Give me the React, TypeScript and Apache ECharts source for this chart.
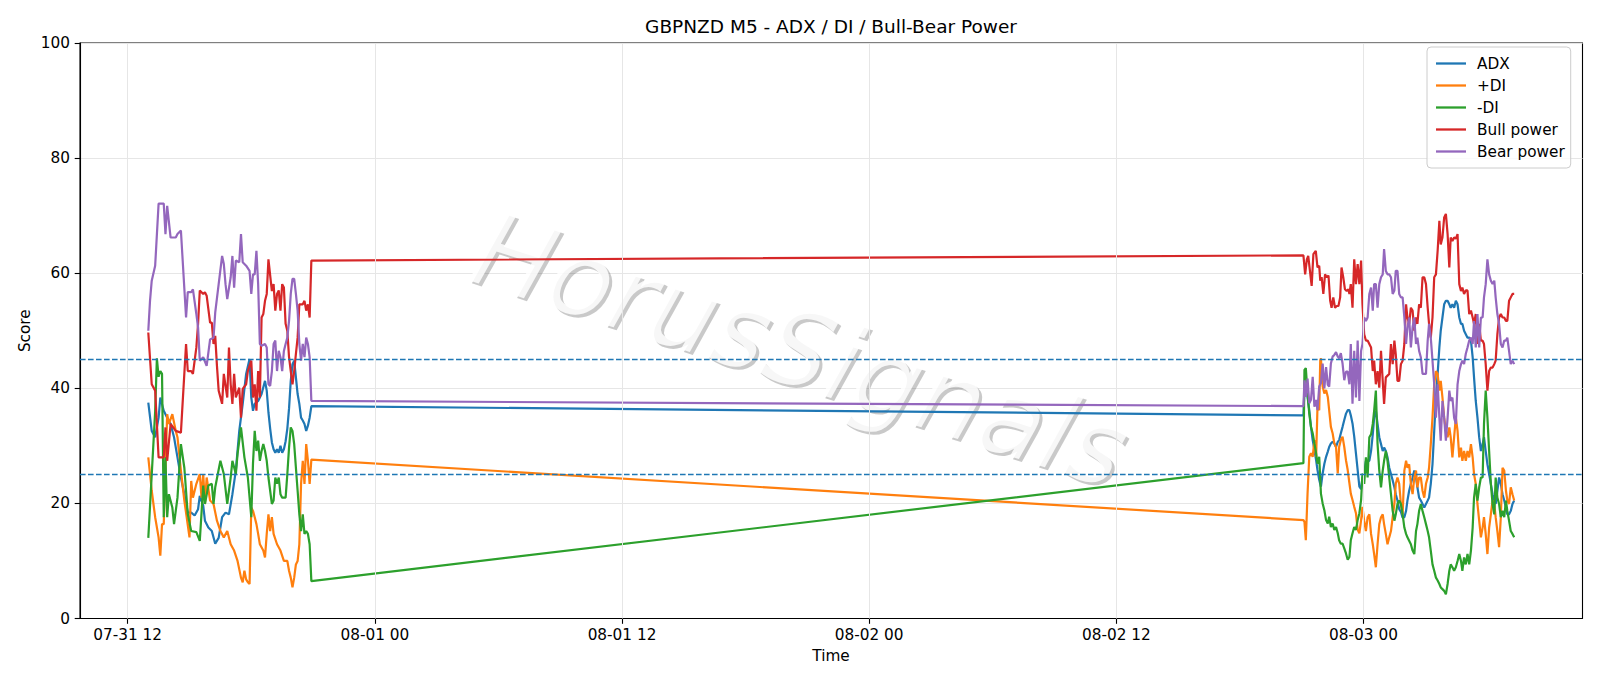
import React, { useEffect, useRef } from "react";
import * as echarts from "echarts";

const TITLE = "GBPNZD M5 - ADX / DI / Bull-Bear Power";
const X_NAME = "Time";
const Y_NAME = "Score";
const WATERMARK = "HorusSignals";

// hours since 07-31 00:00
const SESSION1_START_H = 13; // 07-31 13:00
const SESSION2_START_H = 69; // 08-02 21:00
const X_MIN = 9.684;
const X_MAX = 82.633;
const X_TICKS = [12, 24, 36, 48, 60, 72];
const X_TICK_LABELS = ["07-31 12", "08-01 00", "08-01 12", "08-02 00", "08-02 12", "08-03 00"];
const THRESHOLDS = [25, 45];

const SERIES_NAMES = ["ADX", "+DI", "-DI", "Bull power", "Bear power"];
const SERIES_COLORS = ["#1f77b4", "#ff7f0e", "#2ca02c", "#d62728", "#9467bd"];

// [minutes since session start, value]
const adxS1: [number, number][] = [[0,37.5],[10,32.6],[20,31.5],[30,34.9],[35,38.4],[45,36.1],[55,34.9],[65,33.8],[75,31.5],[85,28.0],[95,24.5],[105,21.6],[115,18.4],[125,18.4],[135,17.9],[145,19.0],[150,21.3],[160,19.6],[165,17.0],[175,15.8],[185,15.2],[195,13.0],[205,14.0],[215,17.6],[225,18.4],[235,18.1],[245,21.6],[255,25.7],[265,32.6],[275,37.3],[285,42.5],[295,45.1],[300,38.4],[305,36.1],[310,37.3],[320,37.8],[330,39.0],[340,41.3],[345,39.6],[350,35.8],[355,33.0],[360,30.6],[365,29.4],[370,28.8],[375,29.4],[380,28.8],[385,30.0],[390,28.8],[395,29.4],[400,30.8],[405,33.0],[410,36.5],[415,41.3],[420,44.2],[425,44.8],[430,41.9],[435,39.0],[440,37.3],[445,34.9],[450,34.4],[455,33.8],[460,32.6],[465,33.5],[470,34.9],[475,36.9]];
const adxS2: [number, number][] = [[5,35.3],[8,40.0],[12,39.4],[17,38.5],[22,36.2],[27,33.3],[32,31.0],[37,29.3],[42,27.5],[46,25.8],[51,24.1],[56,22.9],[61,25.2],[66,26.9],[71,28.1],[76,29.0],[80,29.8],[85,30.4],[90,30.7],[95,30.4],[100,29.8],[105,30.7],[109,31.0],[114,32.2],[119,33.3],[124,34.5],[129,35.6],[134,36.2],[139,36.2],[143,35.3],[148,33.9],[153,31.6],[158,28.7],[163,25.8],[168,22.9],[173,22.5],[177,24.5],[182,25.1],[187,27.4],[192,27.4],[197,27.4],[202,29.1],[207,32.0],[211,34.9],[216,36.1],[221,33.8],[226,31.5],[231,30.3],[236,29.1],[240,29.7],[245,29.1],[250,28.0],[255,26.2],[260,25.1],[265,24.0],[270,22.8],[274,21.6],[279,20.5],[284,19.0],[289,18.5],[294,17.5],[299,17.6],[304,18.7],[308,20.5],[313,22.2],[318,23.4],[323,24.5],[328,25.7],[333,24.5],[337,22.8],[342,21.0],[347,20.5],[352,19.9],[357,19.3],[362,19.9],[367,20.5],[371,21.0],[376,23.4],[381,26.8],[386,32.6],[391,38.4],[396,42.5],[401,47.1],[405,50.0],[410,52.3],[415,54.6],[420,55.2],[425,55.2],[430,54.6],[434,54.0],[439,54.6],[444,54.0],[449,55.2],[454,54.6],[459,52.3],[464,51.2],[468,51.2],[473,50.0],[478,49.4],[483,48.8],[488,48.8],[493,48.3],[498,45.4],[502,41.9],[507,37.8],[512,34.9],[517,31.5],[522,29.1],[527,30.3],[531,31.5],[536,29.1],[541,26.8],[546,25.1],[551,23.4],[556,21.6],[561,20.5],[565,19.9],[570,22.2],[575,24.5],[580,23.4],[585,21.6],[590,20.5],[595,19.3],[599,18.1],[604,18.1],[609,18.7],[614,19.9],[619,20.5]];

const pdiS1: [number, number][] = [[0,28.0],[10,22.2],[20,17.6],[30,14.1],[35,10.9],[40,16.4],[45,16.4],[55,35.5],[60,33.8],[70,35.5],[80,32.6],[85,31.5],[95,25.7],[105,20.5],[120,14.1],[125,23.9],[130,21.0],[140,23.4],[150,25.1],[155,21.0],[160,25.1],[165,19.9],[170,24.5],[180,20.5],[190,19.9],[200,17.0],[210,15.2],[220,14.1],[230,15.2],[240,12.9],[250,11.8],[260,10.0],[270,7.1],[275,6.3],[280,8.3],[285,6.8],[290,6.3],[295,6.0],[300,19.3],[305,18.7],[310,17.6],[315,16.4],[320,14.7],[325,12.9],[335,11.8],[340,10.6],[345,14.7],[350,18.1],[355,15.2],[360,17.6],[365,14.7],[375,12.9],[385,11.8],[395,10.0],[405,10.0],[410,8.3],[415,7.1],[420,5.4],[425,7.1],[430,9.4],[435,10.0],[440,12.9],[445,23.4],[450,27.4],[455,23.4],[460,30.3],[465,27.4],[470,23.4],[475,27.6]];
const pdiS2: [number, number][] = [[5,17.1],[8,16.8],[12,13.6],[17,21.7],[22,28.1],[27,28.7],[32,28.1],[37,31.0],[42,28.1],[46,36.8],[51,36.2],[54,44.9],[56,45.2],[61,40.3],[66,39.1],[71,39.7],[76,38.5],[80,36.2],[85,33.3],[90,32.2],[95,30.4],[100,29.8],[105,25.2],[109,29.8],[114,31.0],[119,31.6],[124,29.8],[129,27.5],[134,25.8],[139,23.5],[143,21.7],[148,20.6],[153,19.4],[158,18.3],[163,15.4],[168,14.8],[173,17.1],[177,19.4],[182,17.0],[187,15.2],[192,17.6],[197,18.1],[202,14.7],[207,12.9],[211,11.2],[216,8.9],[221,12.9],[226,16.4],[231,17.6],[236,18.1],[240,16.4],[245,14.7],[250,12.9],[255,14.1],[260,15.2],[265,17.6],[270,19.9],[274,23.4],[279,24.5],[284,23.4],[289,19.9],[294,18.1],[299,25.7],[304,27.4],[308,26.2],[313,26.8],[318,23.4],[323,21.6],[328,24.5],[333,25.7],[337,22.8],[342,24.5],[347,24.5],[352,22.2],[357,21.0],[362,23.4],[367,24.5],[371,26.2],[376,30.3],[381,34.9],[386,40.7],[391,43.0],[396,42.5],[401,39.6],[405,41.3],[410,38.4],[415,34.9],[420,32.6],[425,31.5],[430,33.2],[434,31.5],[439,28.0],[444,31.5],[449,34.9],[454,32.6],[459,28.0],[464,29.7],[468,27.4],[473,29.1],[478,27.4],[483,29.1],[488,28.0],[493,30.3],[498,28.0],[502,25.1],[507,23.4],[512,19.9],[517,17.0],[522,14.1],[527,15.8],[531,17.6],[536,14.7],[541,11.2],[546,15.8],[551,18.1],[556,20.5],[561,19.9],[565,17.6],[570,15.2],[575,12.4],[580,17.6],[585,26.2],[590,25.7],[595,22.2],[599,20.5],[604,19.9],[609,22.8],[614,21.6],[619,20.5]];

const mdiS1: [number, number][] = [[0,14.0],[10,25.0],[20,36.0],[25,45.2],[30,42.0],[35,43.0],[40,42.5],[45,17.6],[50,28.0],[55,17.6],[60,21.6],[70,19.3],[75,16.4],[85,21.0],[95,30.3],[105,26.2],[115,18.1],[125,15.2],[140,15.0],[150,13.5],[160,23.1],[165,19.9],[175,23.1],[185,23.4],[190,19.9],[195,22.8],[210,27.4],[220,25.1],[230,19.9],[240,24.5],[245,27.4],[255,25.1],[260,28.6],[270,33.2],[280,28.0],[290,24.5],[300,17.6],[305,27.0],[310,32.6],[315,29.1],[320,30.9],[325,27.4],[330,29.1],[335,30.3],[340,29.1],[345,27.4],[350,24.5],[355,22.2],[360,19.9],[365,20.5],[370,24.5],[375,23.4],[380,24.5],[385,21.6],[390,21.0],[400,21.0],[405,25.1],[410,29.7],[415,33.2],[420,32.6],[425,30.3],[430,26.2],[435,22.2],[440,18.1],[445,15.2],[450,18.1],[455,14.7],[460,15.2],[465,14.7],[470,12.9],[475,6.5]];
const mdiS2: [number, number][] = [[5,27.0],[8,43.2],[12,43.5],[17,39.1],[22,35.6],[27,33.3],[32,32.2],[37,30.4],[42,28.7],[46,26.9],[51,28.1],[56,21.7],[61,20.0],[66,18.8],[71,17.1],[76,16.5],[80,17.7],[85,15.9],[90,16.5],[95,15.4],[100,15.9],[105,14.8],[109,13.6],[114,13.0],[119,13.0],[124,12.2],[129,11.3],[134,10.2],[139,10.7],[143,13.6],[148,14.8],[153,15.9],[158,15.4],[163,17.1],[168,18.3],[173,20.6],[177,25.2],[182,23.4],[187,28.0],[192,24.5],[197,31.5],[202,32.0],[207,33.8],[211,36.1],[216,39.6],[221,30.3],[226,25.7],[231,22.8],[236,25.7],[240,27.4],[245,29.1],[250,27.4],[255,24.5],[260,21.6],[265,18.7],[270,17.0],[274,18.1],[279,19.9],[284,20.5],[289,19.9],[294,18.1],[299,15.8],[304,14.7],[308,14.1],[313,13.5],[318,12.9],[323,11.8],[328,11.2],[333,15.2],[337,16.4],[342,18.7],[347,19.9],[352,18.7],[357,17.6],[362,16.4],[367,15.2],[371,14.1],[376,11.8],[381,9.4],[386,8.3],[391,7.1],[396,6.6],[401,6.0],[405,5.4],[410,5.1],[415,4.8],[420,4.2],[425,6.0],[430,8.3],[434,9.4],[439,8.9],[444,8.3],[449,8.9],[454,10.0],[459,11.2],[464,10.0],[468,8.3],[473,10.6],[478,9.4],[483,11.2],[488,9.4],[493,11.8],[498,15.8],[502,21.0],[507,23.4],[512,20.5],[517,22.8],[522,24.5],[527,24.5],[531,33.8],[536,39.6],[541,34.9],[546,29.1],[551,23.4],[556,19.9],[561,18.1],[565,24.5],[570,21.0],[575,19.9],[580,17.6],[585,18.7],[590,17.6],[595,20.5],[599,18.7],[604,17.0],[609,15.2],[614,14.7],[619,14.1]];

const bullS1: [number, number][] = [[0,49.7],[10,40.7],[20,39.6],[30,28.0],[45,28.0],[50,33.2],[55,27.4],[65,33.8],[80,32.6],[95,32.3],[110,47.7],[115,43.0],[125,43.0],[130,42.5],[140,47.1],[145,51.2],[150,57.0],[160,56.4],[165,56.7],[170,56.1],[180,51.4],[185,51.4],[190,47.7],[195,49.1],[200,43.9],[205,39.6],[215,37.3],[220,42.5],[230,38.4],[235,47.1],[240,40.7],[245,37.3],[250,42.5],[255,38.4],[265,40.1],[270,34.9],[275,39.9],[285,40.7],[290,43.0],[295,43.9],[300,44.8],[305,38.4],[310,40.7],[315,36.1],[320,43.0],[325,38.4],[330,52.3],[335,52.9],[340,55.2],[345,56.4],[350,62.4],[360,56.9],[365,58.1],[370,53.5],[375,56.4],[380,57.0],[385,53.5],[390,58.1],[395,57.5],[400,51.2],[405,50.0],[410,45.4],[415,43.0],[420,40.7],[425,43.0],[430,46.0],[435,48.8],[440,54.6],[450,54.6],[455,55.2],[460,53.5],[465,54.6],[470,52.3],[475,62.2]];
const bullS2: [number, number][] = [[5,63.1],[10,59.8],[15,62.4],[19,63.0],[24,60.4],[29,57.8],[34,63.3],[41,63.9],[46,61.0],[51,61.3],[54,58.7],[58,59.3],[63,56.4],[68,59.8],[73,59.3],[78,59.6],[83,55.2],[87,54.0],[92,55.8],[97,54.0],[102,54.3],[107,54.3],[112,55.8],[116,61.0],[121,59.3],[126,57.2],[131,56.9],[136,57.2],[139,56.4],[143,58.1],[148,54.0],[153,62.4],[158,58.1],[163,61.6],[168,58.1],[173,62.2],[177,54.6],[182,49.4],[187,48.3],[192,48.3],[197,47.7],[202,47.1],[207,43.0],[211,44.8],[216,40.7],[221,43.0],[226,40.1],[231,46.5],[236,41.3],[240,37.3],[245,41.9],[250,42.2],[255,42.5],[260,47.7],[265,44.2],[270,48.3],[274,45.9],[279,41.3],[284,41.3],[289,44.2],[294,44.8],[299,47.7],[304,54.6],[308,52.3],[313,51.2],[318,54.0],[323,53.5],[328,50.0],[333,52.3],[337,51.2],[342,54.6],[347,54.0],[352,59.3],[357,59.3],[362,58.1],[367,54.0],[371,51.2],[376,48.8],[381,52.3],[386,59.3],[391,59.8],[396,63.9],[401,69.1],[405,65.0],[410,66.2],[415,69.7],[420,70.3],[425,66.8],[430,61.0],[434,66.2],[439,65.6],[444,66.2],[449,66.0],[454,66.8],[459,58.1],[464,56.9],[468,57.5],[473,56.4],[478,57.0],[483,57.0],[488,52.9],[493,53.5],[498,52.3],[502,51.2],[507,52.9],[512,47.7],[517,51.2],[522,48.3],[527,48.3],[531,47.7],[536,44.2],[541,39.6],[546,43.0],[551,43.6],[556,43.6],[561,44.2],[565,44.8],[570,49.4],[575,52.3],[580,52.9],[585,52.3],[590,52.3],[595,51.7],[599,51.7],[604,55.2],[609,55.8],[614,56.4],[619,56.4]];

const bearS1: [number, number][] = [[0,50.0],[5,55.2],[10,58.7],[20,61.3],[30,72.1],[45,72.1],[50,66.8],[55,71.7],[65,66.2],[80,66.2],[85,66.8],[95,67.4],[110,52.3],[115,56.7],[125,56.7],[130,57.2],[140,52.9],[145,50.6],[150,44.8],[160,45.4],[170,43.9],[180,48.5],[190,48.8],[195,53.2],[205,58.1],[215,63.0],[220,61.6],[225,58.1],[230,55.5],[240,59.3],[245,63.0],[250,57.5],[255,62.2],[265,61.9],[270,66.8],[275,61.9],[285,61.3],[295,60.4],[300,56.4],[305,59.8],[310,59.8],[315,63.9],[320,58.1],[325,47.7],[330,47.4],[340,47.7],[345,47.1],[350,40.7],[355,40.4],[360,43.0],[365,47.7],[370,48.3],[375,43.0],[380,46.5],[385,45.4],[390,43.0],[395,46.5],[400,47.7],[405,48.8],[410,51.7],[415,56.4],[420,59.0],[425,59.0],[430,56.4],[435,53.5],[440,47.7],[445,44.8],[450,47.7],[455,45.4],[460,48.8],[465,47.7],[470,45.4],[475,37.8]];
const bearS2: [number, number][] = [[5,36.9],[8,41.4],[12,38.5],[17,41.7],[22,37.4],[27,38.0],[32,42.0],[37,36.8],[42,38.0],[46,36.2],[51,40.3],[56,40.9],[61,44.3],[66,40.0],[71,43.7],[76,40.6],[80,40.3],[85,44.3],[90,45.5],[95,45.8],[100,46.3],[105,45.5],[109,45.2],[114,46.1],[119,44.3],[124,41.4],[129,42.9],[134,42.9],[139,40.7],[143,47.7],[148,37.3],[153,46.5],[158,38.4],[163,48.3],[168,37.8],[173,46.5],[177,47.7],[182,52.3],[187,51.7],[192,52.3],[197,56.4],[202,57.5],[207,53.5],[211,58.1],[216,58.1],[221,54.0],[226,58.1],[231,59.3],[236,59.8],[240,64.2],[245,60.4],[250,59.8],[255,59.8],[260,59.3],[265,56.4],[270,57.0],[274,60.4],[279,60.4],[284,56.4],[289,55.8],[294,55.8],[299,52.3],[304,47.7],[308,50.6],[313,52.3],[318,47.1],[323,50.6],[328,52.3],[333,47.7],[337,48.8],[342,46.5],[347,45.4],[352,42.5],[357,42.5],[362,42.5],[367,48.3],[371,51.2],[376,48.8],[381,44.8],[386,40.7],[391,34.9],[396,40.7],[401,34.9],[405,30.9],[410,37.8],[415,34.9],[420,30.9],[425,34.9],[430,39.6],[434,37.8],[439,38.4],[444,34.9],[449,33.8],[454,40.7],[459,43.0],[464,44.2],[468,44.8],[473,44.2],[478,46.0],[483,47.1],[488,48.3],[493,48.8],[498,47.7],[502,51.7],[507,47.1],[512,52.9],[517,47.1],[522,52.3],[527,52.3],[531,55.8],[536,58.1],[541,62.4],[546,59.8],[551,58.7],[556,58.1],[561,58.7],[565,55.8],[570,52.9],[575,51.2],[580,47.7],[585,47.1],[590,48.3],[595,48.3],[599,48.8],[604,46.5],[609,44.2],[614,44.8],[619,44.2]];

const SESSIONS: [number, number][][][] = [
  [adxS1, adxS2],
  [pdiS1, pdiS2],
  [mdiS1, mdiS2],
  [bullS1, bullS2],
  [bearS1, bearS2],
];

const FONT = "DejaVu Sans";
const TICK_FS = 15.3;
const TITLE_FS = 18.5;

function toXY(s1: [number, number][], s2: [number, number][]) {
  return [
    ...s1.map(([m, v]) => [SESSION1_START_H + m / 60, v]),
    ...s2.map(([m, v]) => [SESSION2_START_H + m / 60, v]),
  ];
}

function tickLabel(v: number) {
  const i = X_TICKS.findIndex((t) => Math.abs(t - v) < 1e-6);
  return i >= 0 ? X_TICK_LABELS[i] : "";
}

function buildOption() {
  const rot = (-18 * Math.PI) / 180;
  return {
    animation: false,
    textStyle: { fontFamily: FONT },
    grid: {
      left: 80,
      right: 17.5,
      top: 43,
      bottom: 67.5,
      show: true,
      borderColor: "#000",
      borderWidth: 1.1,
      containLabel: false,
    },
    xAxis: {
      type: "value",
      min: X_MIN,
      max: X_MAX,
      axisLine: { show: true, onZero: false, lineStyle: { color: "#000", width: 1.1 } },
      axisTick: { show: true, customValues: X_TICKS, length: 5.3, lineStyle: { color: "#000", width: 1.1 } },
      axisLabel: {
        customValues: X_TICKS,
        formatter: (v: number) => tickLabel(v),
        color: "#000",
        fontSize: TICK_FS,
        fontFamily: FONT,
        margin: 9,
      },
      splitLine: { show: false },
    },
    yAxis: {
      type: "value",
      min: 0,
      max: 100,
      interval: 20,
      axisLine: { show: true, lineStyle: { color: "#000", width: 1.1 } },
      axisTick: { show: true, length: 5.3, lineStyle: { color: "#000", width: 1.1 } },
      axisLabel: { color: "#000", fontSize: TICK_FS, fontFamily: FONT, margin: 10 },
      splitLine: { show: true, lineStyle: { color: "#e6e6e6", width: 1 } },
    },
    legend: {
      data: SERIES_NAMES,
      orient: "vertical",
      left: 1427,
      top: 47,
      icon: "rect",
      itemWidth: 30,
      itemHeight: 2.3,
      itemGap: 5,
      padding: [8, 6, 8, 9],
      backgroundColor: "rgba(255,255,255,0.8)",
      borderColor: "#cccccc",
      borderWidth: 1,
      borderRadius: 4,
      textStyle: { fontSize: TICK_FS, color: "#000", fontFamily: FONT, lineHeight: 17, padding: [0, 0, 0, 6] },
    },
    graphic: [
      {
        type: "text",
        x: 803,
        y: 353,
        rotation: rot,
        z: 1,
        silent: true,
        style: {
          text: WATERMARK,
          fontSize: 104,
          fontFamily: FONT,
          fontStyle: "italic",
          fill: "rgba(77,77,77,0.3)",
          align: "center",
          verticalAlign: "middle",
        },
      },
      {
        type: "text",
        x: 800,
        y: 350,
        rotation: rot,
        z: 1,
        silent: true,
        style: {
          text: WATERMARK,
          fontSize: 104,
          fontFamily: FONT,
          fontStyle: "italic",
          fill: "rgba(255,255,255,0.85)",
          align: "center",
          verticalAlign: "middle",
        },
      },
      {
        type: "text",
        x: 831,
        y: 26,
        silent: true,
        style: { text: TITLE, fontSize: TITLE_FS, fontFamily: FONT, fill: "#000", align: "center", verticalAlign: "middle" },
      },
      {
        type: "text",
        x: 831,
        y: 656,
        silent: true,
        style: { text: X_NAME, fontSize: TICK_FS, fontFamily: FONT, fill: "#000", align: "center", verticalAlign: "middle" },
      },
      {
        type: "text",
        x: 24.5,
        y: 330.7,
        rotation: Math.PI / 2,
        silent: true,
        style: { text: Y_NAME, fontSize: TICK_FS, fontFamily: FONT, fill: "#000", align: "center", verticalAlign: "middle" },
      },
    ],
    series: [
      {
        name: "_grid",
        type: "line",
        data: [],
        silent: true,
        z: 0,
        markLine: {
          silent: true,
          symbol: ["none", "none"],
          label: { show: false },
          lineStyle: { color: "#e6e6e6", width: 1, type: "solid" },
          data: X_TICKS.map((x) => ({ xAxis: x })),
        },
      },
      ...SERIES_NAMES.map((name, i) => ({
        name,
        type: "line",
        data: toXY(SESSIONS[i][0], SESSIONS[i][1]),
        showSymbol: false,
        symbol: "none",
        z: 2,
        lineStyle: { color: SERIES_COLORS[i], width: 2.2 },
        itemStyle: { color: SERIES_COLORS[i] },
      })),
      {
        name: "_thresholds",
        type: "line",
        data: [],
        silent: true,
        z: 3,
        markLine: {
          silent: true,
          symbol: ["none", "none"],
          label: { show: false },
          lineStyle: { color: "#1f77b4", width: 1.4, type: [5.6, 2.4] },
          data: THRESHOLDS.map((y) => ({ yAxis: y })),
        },
      },
    ],
  };
}

export default function App() {
  const ref = useRef<HTMLDivElement>(null);
  useEffect(() => {
    document.body.style.margin = "0";
    const chart = echarts.init(ref.current!, null, { renderer: "svg", width: 1600, height: 686 });
    chart.setOption(buildOption() as any);
    return () => chart.dispose();
  }, []);
  return <div ref={ref} style={{ width: 1600, height: 686 }} />;
}
